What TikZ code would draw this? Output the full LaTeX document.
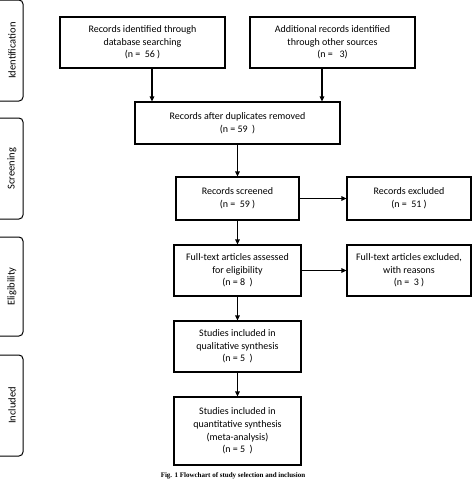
\documentclass[tikz,border=0pt]{standalone}
\usepackage{fontspec}
\setmainfont{Carlito}
\newfontfamily\capfont{Liberation Serif}
\usetikzlibrary{arrows.meta}
\tikzset{
  box/.style={draw=black, line width=1.1pt, align=center, inner sep=1pt,
    font=\fontsize{10}{12.6}\selectfont, text=black},
  side/.style={draw=black, line width=1pt, rounded corners=4pt},
  sidelabel/.style={rotate=90, font=\fontsize{10.5}{12}\selectfont, text=black},
  arr/.style={line width=1.1pt, -{Triangle[length=5pt,width=4.5pt]}}
}
\begin{document}
\begin{tikzpicture}[x=1pt,y=1pt]
\clip (0,0) rectangle (474,-480);
\fill[white] (0,0) rectangle (474,-480);
% side phase boxes
\draw[side] (-8,0) rectangle (23,-101);
\draw[side] (-8,-118) rectangle (23,-219);
\draw[side] (-8,-237) rectangle (23,-336);
\draw[side] (-8,-355) rectangle (23,-456);
\node[sidelabel] (l1) at (12,-50.5) {Identification};
\node[sidelabel] (l2) at (12,-168.5) {Screening};
\node[sidelabel] (l3) at (12,-286.5) {Eligibility};
\node[sidelabel] (l4) at (12,-405.5) {Included};
% flow boxes
\node[box, minimum width=165pt, minimum height=51pt] (A) at (142.5,-42.5)
  {Records identified through\\database searching\\(n =~~56 )};
\node[box, minimum width=165pt, minimum height=51pt] (B) at (332.5,-42.5)
  {Additional records identified\\through other sources\\(n =~~~3)};
\node[box, minimum width=205pt, minimum height=42pt] (C) at (237.5,-123)
  {Records after duplicates removed\\(n = 59~~)};
\node[box, minimum width=123pt, minimum height=43pt] (D) at (237.5,-198.5)
  {Records screened\\(n =~~59 )};
\node[box, minimum width=124pt, minimum height=43pt] (E) at (409,-198.5)
  {Records excluded\\(n =~~51 )};
\node[box, minimum width=127pt, minimum height=51pt] (F) at (237.5,-270.5)
  {Full-text articles assessed\\for eligibility\\(n = 8~~)};
\node[box, minimum width=124pt, minimum height=51pt] (G) at (409,-270.5)
  {Full-text articles excluded,\\with reasons\\(n =~~3 )};
\node[box, minimum width=127pt, minimum height=51pt] (H) at (237.5,-346.5)
  {Studies included in\\qualitative synthesis\\(n = 5~~)};
\node[box, minimum width=127pt, minimum height=68pt] (I) at (237.5,-431)
  {Studies included in\\quantitative synthesis\\(meta-analysis)\\(n = 5~~)};
% arrows
\draw[arr] ([xshift=9.5pt]A.south) -- ([xshift=9.5pt]A.south |- C.north);
\draw[arr] ([xshift=-10.5pt]B.south) -- ([xshift=-10.5pt]B.south |- C.north);
\draw[arr] (C.south) -- (D.north);
\draw[arr] (D.east) -- (E.west);
\draw[arr] (D.south) -- (F.north);
\draw[arr] (F.east) -- (G.west);
\draw[arr] (F.south) -- (H.north);
\draw[arr] (H.south) -- (I.north);
% caption
\node[font=\capfont\bfseries\fontsize{7}{8}\selectfont, anchor=south, inner sep=0pt] (cap) at (233,-479.5)
  {Fig. 1 Flowchart of study selection and inclusion};
\end{tikzpicture}
\end{document}
